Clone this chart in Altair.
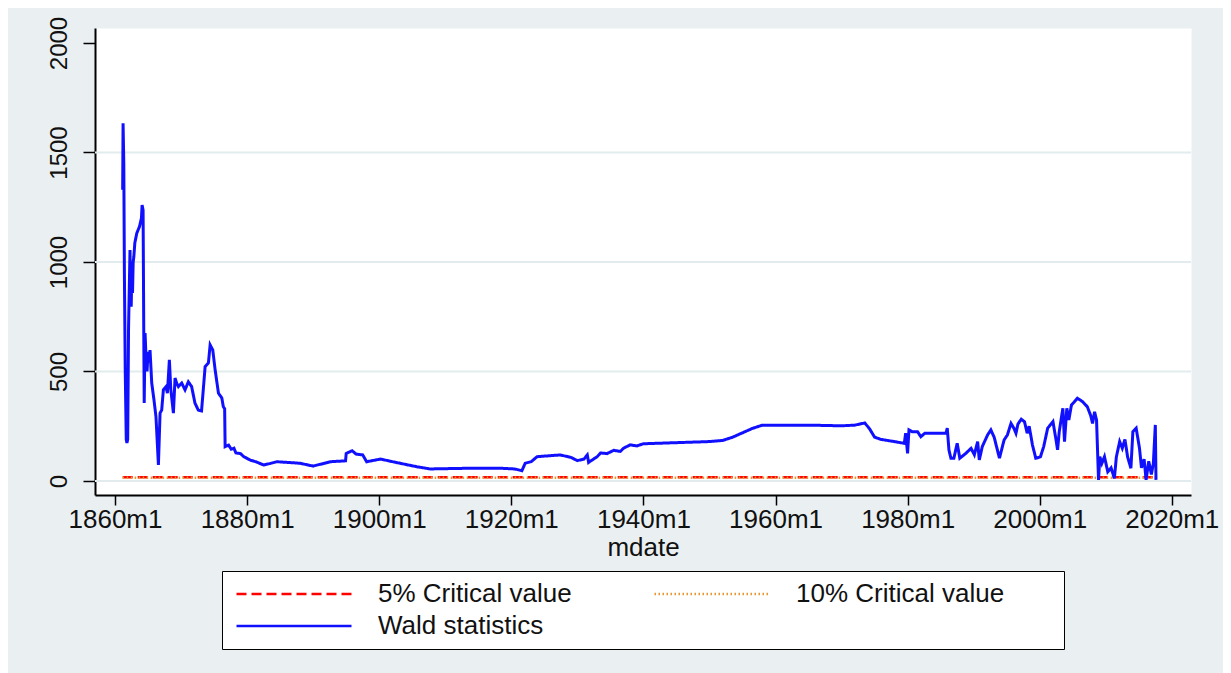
import altair as alt
import pandas as pd

# ---- data ----
dates = [
    1861.16, 1861.22, 1861.33, 1861.42, 1861.55, 1861.70, 1861.80, 1861.92, 1862.05, 1862.27,
    1862.35, 1862.45, 1862.55, 1862.65, 1862.75, 1862.85, 1863.00, 1863.30, 1863.70, 1864.00,
    1864.10, 1864.25, 1864.35, 1864.42, 1864.55, 1864.70, 1864.85, 1865.00, 1865.15, 1865.30,
    1865.56, 1865.90, 1866.20, 1866.57, 1866.82, 1867.07, 1867.32, 1867.73, 1867.93, 1868.23,
    1868.44, 1868.84, 1869.09, 1869.35, 1869.60, 1870.10, 1870.60, 1871.10, 1871.60, 1872.10,
    1872.60, 1873.10, 1873.30, 1873.64, 1874.14, 1874.40, 1874.80, 1875.16, 1875.66, 1876.17,
    1876.40, 1876.60, 1876.67, 1877.20, 1877.60, 1878.00, 1878.30, 1879.00, 1879.50, 1880.50,
    1881.30, 1882.50, 1883.50, 1884.50, 1886.00, 1888.00, 1890.00, 1892.60, 1894.90, 1895.00,
    1895.90, 1896.50, 1897.50, 1898.10, 1900.20, 1902.50, 1905.70, 1907.70, 1913.30, 1918.40,
    1920.50, 1921.60, 1922.10, 1923.00, 1923.90, 1927.40, 1929.00, 1930.00, 1931.00, 1931.50,
    1931.70, 1933.00, 1933.50, 1934.50, 1935.50, 1936.50, 1937.00, 1938.00, 1939.00, 1940.00,
    1942.00, 1945.00, 1948.00, 1950.00, 1952.00, 1953.50, 1955.00, 1956.50, 1958.00, 1960.00,
    1965.00, 1970.00, 1972.00, 1973.50, 1974.20, 1975.00, 1975.94, 1977.96, 1979.50, 1979.70,
    1979.99, 1980.20, 1980.70, 1981.50, 1982.00, 1982.60, 1983.50, 1984.60, 1985.80, 1986.00,
    1986.25, 1986.55, 1987.00, 1987.50, 1987.90, 1988.80, 1989.60, 1990.10, 1990.60, 1990.85,
    1991.30, 1992.10, 1992.60, 1993.10, 1993.90, 1994.60, 1995.10, 1995.65, 1996.10, 1996.40,
    1996.70, 1997.20, 1997.70, 1998.10, 1998.40, 1998.90, 1999.40, 2000.10, 2000.60, 2001.20,
    2002.00, 2002.40, 2002.70, 2002.95, 2003.50, 2003.75, 2004.10, 2004.40, 2004.80, 2005.20,
    2005.70, 2006.50, 2007.20, 2007.70, 2008.00, 2008.30, 2008.60, 2008.90, 2009.10, 2009.40,
    2009.80, 2010.30, 2010.80, 2011.30, 2011.60, 2012.10, 2012.50, 2012.90, 2013.30, 2013.80,
    2014.10, 2014.60, 2015.10, 2015.40, 2015.80, 2016.10, 2016.50, 2016.90, 2017.20, 2017.50,
    2017.60,
]
wald = [
    1330, 1633, 1450, 950, 500, 190, 174, 190, 700, 1055,
    870, 796, 950, 858, 1000, 1024, 1087, 1132, 1161, 1200,
    1260, 1237, 700, 356, 676, 560, 500, 590, 540, 598,
    447, 370, 294, 73, 310, 324, 416, 431, 401, 553,
    420, 310, 470, 445, 431, 447, 416, 453, 431, 356,
    324, 320, 393, 522, 539, 621, 598, 507, 401, 379,
    339, 330, 157, 164, 145, 150, 128, 125, 111, 95,
    88, 73, 80, 88, 85, 81, 68, 88, 92, 126,
    138, 123, 119, 88, 100, 85, 65, 55, 58, 58,
    55, 47, 81, 88, 111, 119, 108, 93, 100, 119,
    85, 111, 128, 125, 140, 135, 150, 165, 160, 170,
    172, 175, 178, 180, 185, 200, 220, 240, 255, 255,
    255, 252, 255, 265, 240, 200, 190, 180, 172, 218,
    126, 233, 225, 225, 202, 218, 218, 218, 218, 241,
    142, 104, 104, 172, 104, 126, 149, 120, 180, 96,
    157, 210, 233, 200, 104, 187, 210, 263, 240, 218,
    260, 282, 270, 218, 250, 164, 104, 110, 157, 241,
    271, 200, 142, 225, 332, 180, 332, 278, 347, 360,
    378, 362, 339, 300, 263, 316, 278, 5, 111, 80,
    111, 42, 60, 12, 110, 180, 150, 190, 110, 58,
    225, 241, 150, 60, 100, 5, 90, 30, 80, 256,
    5,
]
cv_dates = [1861.16, 2017.60]
cv5 = [17.6, 17.6]
cv10 = [15.0, 15.0]
series_names = ["5% Critical value", "10% Critical value", "Wald statistics"]
series_colors = ["#FF0000", "#E8962E", "#1010FF"]
series_dashes = [[10, 5], [1.5, 2.5], [1, 0]]
y_ticks = [0, 500, 1000, 1500, 2000]
grid_vals = [0, 500, 1000, 1500]
x_ticks = [1860, 1880, 1900, 1920, 1940, 1960, 1980, 2000, 2020]

wald_df = pd.DataFrame({"mdate": dates, "value": wald, "series": series_names[2]})
cv_df = pd.DataFrame({
    "mdate": cv_dates + cv_dates,
    "value": cv5 + cv10,
    "series": [series_names[0]] * 2 + [series_names[1]] * 2,
})
grid_df = pd.DataFrame({"value": grid_vals})

FONT = "Liberation Sans"
xscale = alt.Scale(domain=[1856.97, 2022.9], nice=False, zero=False)
yscale = alt.Scale(domain=[-64, 2068.5], nice=False, zero=False)

xaxis = alt.Axis(
    values=x_ticks, labelExpr="datum.value + 'm1'", title="mdate", grid=False,
    domainColor="black", domainWidth=2, tickColor="black", tickWidth=1.5, tickSize=10,
    labelFont=FONT, labelFontSize=26, labelColor="#111111", labelPadding=1,
    labelFlush=False, labelOverlap=False,
    titleFont=FONT, titleFontSize=26, titleFontWeight="normal", titleColor="#111111",
    titlePadding=2,
)
yaxis = alt.Axis(
    values=y_ticks, title="", grid=False, format="d",
    domainColor="black", domainWidth=2, tickColor="black", tickWidth=1.5, tickSize=12,
    labelFont=FONT, labelFontSize=24, labelColor="#111111", labelPadding=12,
    labelAngle=270, labelAlign="center", labelBaseline="bottom",
    labelFlush=False, labelOverlap=False,
)

pad = "\u2800\u00a0\u00a0\u2800"
legend = alt.Legend(
    title=None, orient="none", legendX=127, legendY=543,
    direction="horizontal", columns=2,
    symbolType="stroke", symbolSize=13225, symbolStrokeWidth=2.5,
    clipHeight=32, rowPadding=0, columnPadding=75,
    labelOffset=25, symbolOffset=6, padding=7,
    strokeColor="black", fillColor="white",
    labelFont=FONT, labelFontSize=26, labelColor="#111111", labelLimit=500,
    labelExpr="datum.label == '10% Critical value' ? datum.label + '" + pad + "' : datum.label",
)
color = alt.Color("series:N", scale=alt.Scale(domain=series_names, range=series_colors), legend=legend)
dash = alt.StrokeDash("series:N", scale=alt.Scale(domain=series_names, range=series_dashes), legend=legend)

grid = alt.Chart(grid_df).mark_rule(color="#E2EBEE", strokeWidth=2).encode(
    y=alt.Y("value:Q", scale=yscale, axis=yaxis)
)
cv_lines = alt.Chart(cv_df).mark_line(strokeWidth=2.5).encode(
    x=alt.X("mdate:Q", scale=xscale, axis=xaxis),
    y=alt.Y("value:Q", scale=yscale, axis=yaxis),
    color=color, strokeDash=dash,
)
wald_line = alt.Chart(wald_df).mark_line(strokeWidth=3).encode(
    x=alt.X("mdate:Q", scale=xscale, axis=xaxis),
    y=alt.Y("value:Q", scale=yscale, axis=yaxis),
    color=color, strokeDash=dash,
)

chart = alt.layer(grid, cv_lines, wald_line).properties(
    width=1096, height=467,
    autosize=alt.AutoSizeParams(type="none"),
    padding={"left": 87, "top": 20, "right": 32, "bottom": 178},
    background="#EAF0F2",
).configure_view(fill="white", stroke="transparent")

chart.save("out.html", embed_options={"renderer": "svg", "actions": False})
